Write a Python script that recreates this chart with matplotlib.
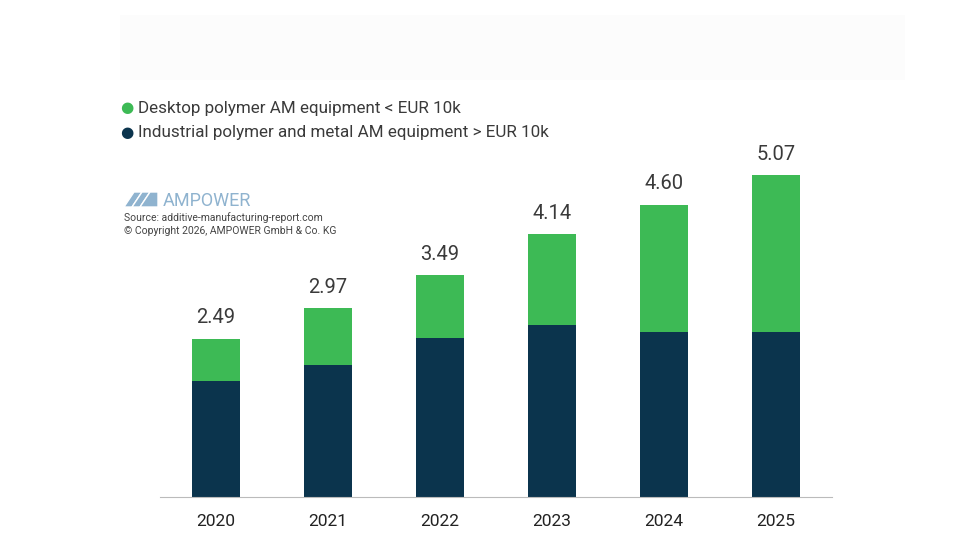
import matplotlib
matplotlib.use("Agg")
import matplotlib.pyplot as plt
from matplotlib.patches import Rectangle, Polygon

years = ["2020", "2021", "2022", "2023", "2024", "2025"]
industrial = [1.83, 2.08, 2.50, 2.71, 2.60, 2.60]
totals = [2.49, 2.97, 3.49, 4.14, 4.60, 5.07]
total_labels = ["2.49", "2.97", "3.49", "4.14", "4.60", "5.07"]
desktop = [t - i for t, i in zip(totals, industrial)]

DARK = "#0b344d"
GREEN = "#3dba55"
plt.rcParams['font.family'] = ['Roboto', 'DejaVu Sans']

fig = plt.figure(figsize=(9.8, 5.6), dpi=100)
W, H = 980, 560
fig.patches.append(Rectangle((120/W, 1-80/H), 785/W, 65/H, transform=fig.transFigure,
                             facecolor="#fcfcfc", edgecolor="none"))

ax = fig.add_axes([160/W, 1-497/H, 672/W, 322/H])
x = range(len(years))
ax.bar(x, industrial, width=0.42, color=DARK)
ax.bar(x, desktop, bottom=industrial, width=0.42, color=GREEN)
for xi, t, lab in zip(x, totals, total_labels):
    ax.text(xi, t + 0.18, lab, ha="center", va="bottom", fontsize=14.5, color="#3a3a3a")
ax.set_xlim(-0.5, 5.5)
ax.set_ylim(0, 5.07)
ax.set_xticks(list(x))
ax.set_xticklabels(years, fontsize=12.5, color="#222222")
ax.tick_params(axis="x", length=0, pad=12)
ax.set_yticks([])
for s in ["top", "right", "left"]:
    ax.spines[s].set_visible(False)
ax.spines["bottom"].set_color("#bbbbbb")

for yy, col, txt in [(108, GREEN, "Desktop polymer AM equipment < EUR 10k"),
                     (133, DARK, "Industrial polymer and metal AM equipment > EUR 10k")]:
    fig.text(127/W, 1-yy/H, "●", color=col, fontsize=11, va="center", ha="center")
    fig.text(138/W, 1-yy/H, txt, color="#3a3a3a", fontsize=12.25, va="center")

lc = "#8fb3cf"
for pts in [[(124,207),(134,192),(142,192),(132,207)],
            [(132,207),(142,192),(150,192),(140,207)],
            [(140,207),(150,192),(158,192),(158,207)]]:
    fig.patches.append(Polygon([(px/W, 1-py/H) for px, py in pts], closed=True,
                               transform=fig.transFigure, facecolor=lc, edgecolor="white", lw=1))
fig.text(163/W, 1-201/H, "AMPOWER", color=lc, fontsize=13, va="center")
fig.text(124/W, 1-218/H, "Source: additive-manufacturing-report.com", color="#444444", fontsize=7.5, va="center")
fig.text(124/W, 1-231/H, "© Copyright 2026, AMPOWER GmbH & Co. KG", color="#444444", fontsize=7.5, va="center")

fig.savefig("out.png", dpi=100, facecolor="white")
